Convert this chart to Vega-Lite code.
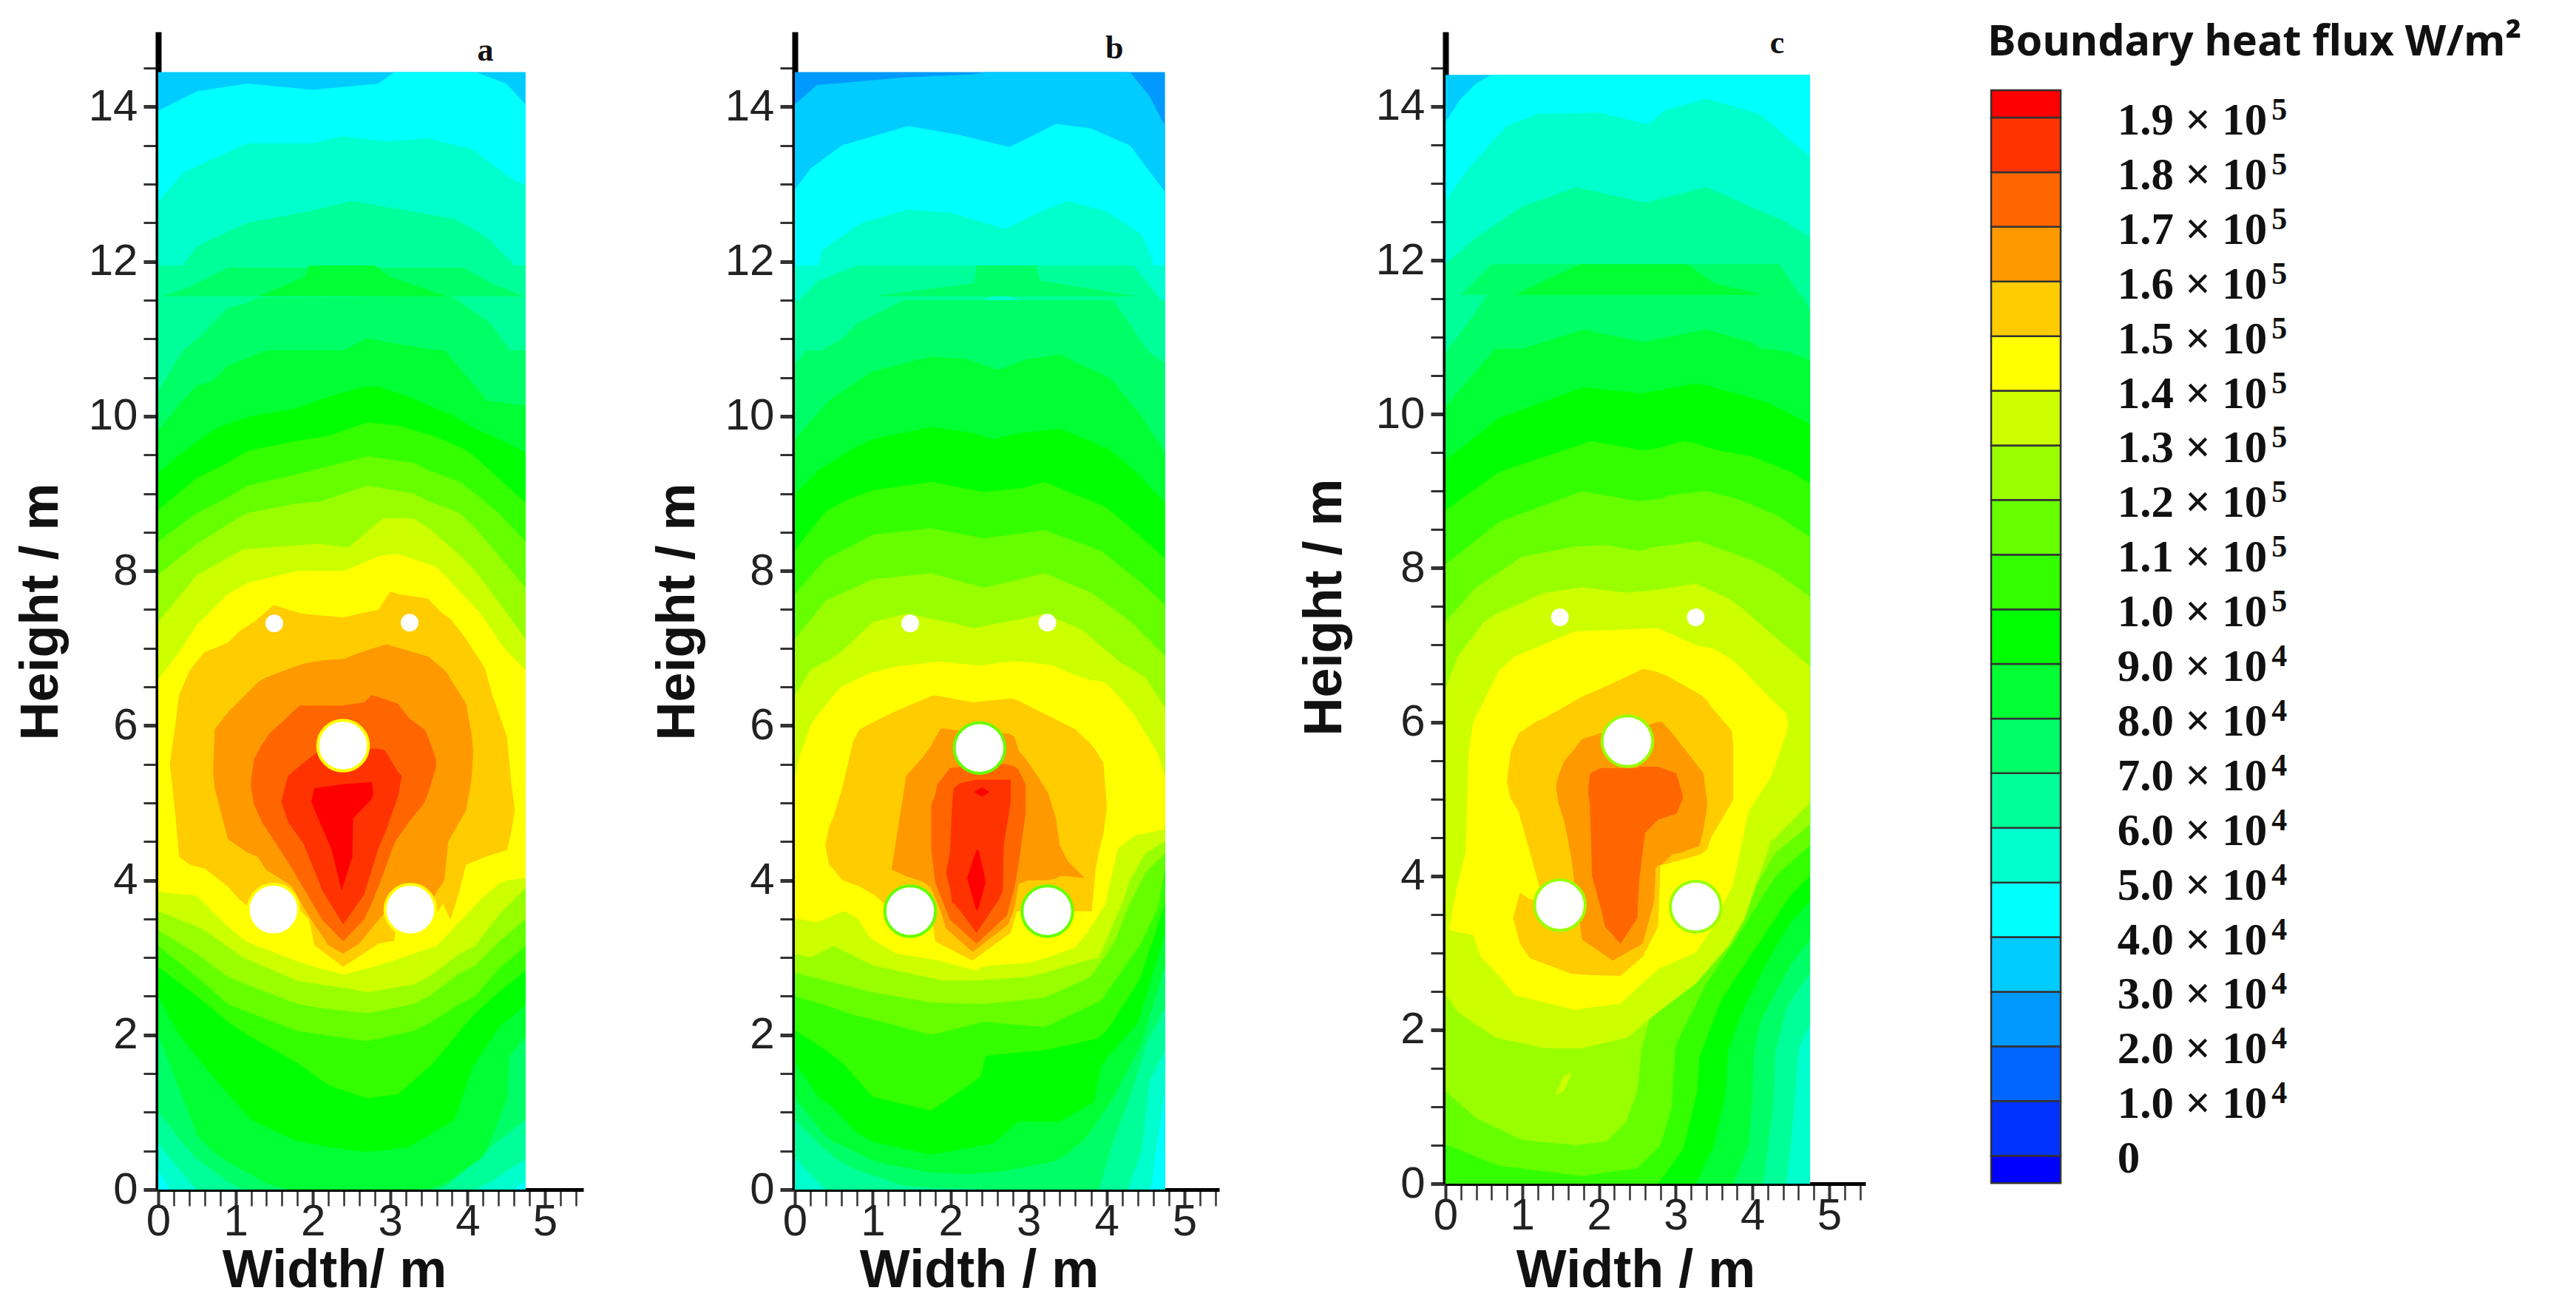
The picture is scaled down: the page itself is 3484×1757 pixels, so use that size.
{"$schema":"https://vega.github.io/schema/vega-lite/v6.json","padding":{"left":19,"top":28,"right":5,"bottom":5},"background":"white","bounds":"flush","spacing":286,"config":{"view":{"stroke":null},"axis":{"grid":false,"labelFont":"Liberation Sans","labelFontSize":60,"labelColor":"#222","titleFont":"Liberation Sans","titleFontSize":72,"titleFontWeight":"bold","titleColor":"#111","domainColor":"#000","tickColor":"#333","labelBound":false,"labelFlush":false,"zindex":1}},
"datasets":{
"a":[
{"l":3,"w":0,"lo":0,"hi":14.45},{"l":3,"w":4.75,"lo":0,"hi":14.45},
{"l":4,"w":0,"lo":0,"hi":13.95},{"l":4,"w":0.5,"lo":0,"hi":14.2},{"l":4,"w":1.15,"lo":0,"hi":14.3},{"l":4,"w":2,"lo":0,"hi":14.22},{"l":4,"w":2.85,"lo":0,"hi":14.3},{"l":4,"w":3.05,"lo":0,"hi":14.45},{"l":4,"w":4.1,"lo":0,"hi":14.45},{"l":4,"w":4.5,"lo":0,"hi":14.3},{"l":4,"w":4.75,"lo":0,"hi":14.03},
{"l":5,"w":0,"lo":0.25,"hi":12.77},{"l":5,"w":0.15,"lo":0,"hi":12.95},{"l":5,"w":0.32,"lo":0,"hi":13.15},{"l":5,"w":1.15,"lo":0,"hi":13.53},{"l":5,"w":2,"lo":0,"hi":13.53},{"l":5,"w":2.37,"lo":0,"hi":13.62},{"l":5,"w":2.95,"lo":0,"hi":13.55},{"l":5,"w":3.49,"lo":0,"hi":13.59},{"l":5,"w":4.07,"lo":0,"hi":13.45},{"l":5,"w":4.46,"lo":0,"hi":13.15},{"l":5,"w":4.6,"lo":0,"hi":13.05},{"l":5,"w":4.75,"lo":0.12,"hi":12.99},
{"l":6,"w":0,"lo":0.6,"hi":11.95},{"l":6,"w":0.32,"lo":0.2,"hi":11.95},{"l":6,"w":0.5,"lo":0,"hi":12.2},{"l":6,"w":1.15,"lo":0,"hi":12.5},{"l":6,"w":2,"lo":0,"hi":12.66},{"l":6,"w":2.5,"lo":0,"hi":12.78},{"l":6,"w":3.1,"lo":0,"hi":12.68},{"l":6,"w":3.83,"lo":0,"hi":12.55},{"l":6,"w":4.1,"lo":0,"hi":12.4},{"l":6,"w":4.3,"lo":0.1,"hi":12.27},{"l":6,"w":4.6,"lo":0.3,"hi":11.95},{"l":6,"w":4.75,"lo":0.4,"hi":11.95},
{"l":7,"w":0,"lo":1,"hi":10.33},{"l":7,"w":0.32,"lo":0.6,"hi":10.85},{"l":7,"w":0.5,"lo":0.4,"hi":10.99},{"l":7,"w":0.9,"lo":0.1,"hi":11.4},{"l":7,"w":1.1,"lo":0,"hi":11.45},{"l":7,"w":1.3,"lo":0,"hi":11.53},{"l":7,"w":3.63,"lo":0,"hi":11.55},{"l":7,"w":3.8,"lo":0.1,"hi":11.55},{"l":7,"w":4.3,"lo":0.55,"hi":11.2},{"l":7,"w":4.55,"lo":0.75,"hi":10.85},{"l":7,"w":4.75,"lo":0.9,"hi":10.85},
{"l":7,"g":1,"w":0.05,"lo":11.55,"hi":11.55},{"l":7,"g":1,"w":0.4,"lo":11.55,"hi":11.67},{"l":7,"g":1,"w":0.9,"lo":11.55,"hi":11.92},{"l":7,"g":1,"w":3.95,"lo":11.55,"hi":11.92},{"l":7,"g":1,"w":4.3,"lo":11.55,"hi":11.72},{"l":7,"g":1,"w":4.73,"lo":11.55,"hi":11.55},
{"l":8,"w":0,"lo":2,"hi":9.81},{"l":8,"w":0.27,"lo":1.3,"hi":10.15},{"l":8,"w":0.51,"lo":0.69,"hi":10.4},{"l":8,"w":0.7,"lo":0.5,"hi":10.45},{"l":8,"w":0.9,"lo":0.36,"hi":10.65},{"l":8,"w":1.4,"lo":0.08,"hi":10.85},{"l":8,"w":1.68,"lo":0,"hi":10.85},{"l":8,"w":2.4,"lo":0,"hi":10.85},{"l":8,"w":2.7,"lo":0,"hi":11.01},{"l":8,"w":3,"lo":0,"hi":10.95},{"l":8,"w":3.49,"lo":0,"hi":10.87},{"l":8,"w":3.7,"lo":0.08,"hi":10.85},{"l":8,"w":4.17,"lo":0.4,"hi":10.3},{"l":8,"w":4.25,"lo":0.5,"hi":10.2},{"l":8,"w":4.51,"lo":1.18,"hi":10.17},{"l":8,"w":4.54,"lo":1.73,"hi":10.16},{"l":8,"w":4.75,"lo":1.98,"hi":10.14},
{"l":8,"g":1,"w":1.3,"lo":11.55,"hi":11.55},{"l":8,"g":1,"w":1.9,"lo":11.55,"hi":11.8},{"l":8,"g":1,"w":1.95,"lo":11.55,"hi":11.95},{"l":8,"g":1,"w":2.8,"lo":11.55,"hi":11.95},{"l":8,"g":1,"w":3,"lo":11.55,"hi":11.8},{"l":8,"g":1,"w":3.73,"lo":11.55,"hi":11.55},
{"l":9,"w":0,"lo":2.5,"hi":9.26},{"l":9,"w":0.27,"lo":2,"hi":9.5},{"l":9,"w":0.76,"lo":1.4,"hi":9.85},{"l":9,"w":1.2,"lo":0.9,"hi":10},{"l":9,"w":1.78,"lo":0.63,"hi":10.1},{"l":9,"w":2.2,"lo":0.55,"hi":10.25},{"l":9,"w":2.66,"lo":0.49,"hi":10.38},{"l":9,"w":2.85,"lo":0.5,"hi":10.38},{"l":9,"w":3.24,"lo":0.55,"hi":10.25},{"l":9,"w":3.83,"lo":0.9,"hi":10},{"l":9,"w":4.07,"lo":1.6,"hi":9.85},{"l":9,"w":4.41,"lo":2.1,"hi":9.7},{"l":9,"w":4.75,"lo":2.39,"hi":9.53},
{"l":10,"w":0,"lo":2.88,"hi":8.79},{"l":10,"w":0.5,"lo":2.5,"hi":9.2},{"l":10,"w":0.9,"lo":2.17,"hi":9.4},{"l":10,"w":1.15,"lo":2,"hi":9.55},{"l":10,"w":1.78,"lo":1.65,"hi":9.68},{"l":10,"w":2.22,"lo":1.34,"hi":9.75},{"l":10,"w":2.7,"lo":1.18,"hi":9.92},{"l":10,"w":3.1,"lo":1.23,"hi":9.88},{"l":10,"w":3.54,"lo":1.62,"hi":9.75},{"l":10,"w":3.9,"lo":2.05,"hi":9.6},{"l":10,"w":4.07,"lo":2.25,"hi":9.5},{"l":10,"w":4.4,"lo":2.55,"hi":9.2},{"l":10,"w":4.75,"lo":2.83,"hi":8.88},
{"l":11,"w":0,"lo":3.15,"hi":8.38},{"l":11,"w":0.5,"lo":2.75,"hi":8.75},{"l":11,"w":0.9,"lo":2.4,"hi":8.95},{"l":11,"w":1.15,"lo":2.3,"hi":9.1},{"l":11,"w":1.8,"lo":2.05,"hi":9.25},{"l":11,"w":2.7,"lo":1.92,"hi":9.48},{"l":11,"w":3.3,"lo":2.05,"hi":9.4},{"l":11,"w":3.5,"lo":2.15,"hi":9.3},{"l":11,"w":3.9,"lo":2.4,"hi":9.15},{"l":11,"w":4.1,"lo":2.5,"hi":9},{"l":11,"w":4.4,"lo":2.85,"hi":8.75},{"l":11,"w":4.75,"lo":3.15,"hi":8.38},
{"l":12,"w":0,"lo":3.35,"hi":7.95},{"l":12,"w":0.5,"lo":3.05,"hi":8.35},{"l":12,"w":0.9,"lo":2.75,"hi":8.6},{"l":12,"w":1.15,"lo":2.65,"hi":8.75},{"l":12,"w":1.8,"lo":2.4,"hi":8.87},{"l":12,"w":2.1,"lo":2.35,"hi":8.9},{"l":12,"w":2.7,"lo":2.28,"hi":9.1},{"l":12,"w":3.3,"lo":2.4,"hi":9},{"l":12,"w":3.5,"lo":2.5,"hi":8.9},{"l":12,"w":3.9,"lo":2.8,"hi":8.75},{"l":12,"w":4.1,"lo":2.9,"hi":8.55},{"l":12,"w":4.4,"lo":3.2,"hi":8.2},{"l":12,"w":4.75,"lo":3.5,"hi":7.78},
{"l":13,"w":0,"lo":3.6,"hi":7.34},{"l":13,"w":0.5,"lo":3.4,"hi":7.95},{"l":13,"w":0.6,"lo":3.35,"hi":8},{"l":13,"w":1.1,"lo":3,"hi":8.28},{"l":13,"w":1.8,"lo":2.7,"hi":8.33},{"l":13,"w":2.1,"lo":2.65,"hi":8.35},{"l":13,"w":2.45,"lo":2.6,"hi":8.3},{"l":13,"w":2.7,"lo":2.55,"hi":8.5},{"l":13,"w":2.9,"lo":2.58,"hi":8.68},{"l":13,"w":3.3,"lo":2.65,"hi":8.68},{"l":13,"w":3.5,"lo":2.75,"hi":8.55},{"l":13,"w":3.9,"lo":3.05,"hi":8.2},{"l":13,"w":4.1,"lo":3.15,"hi":8},{"l":13,"w":4.4,"lo":3.55,"hi":7.6},{"l":13,"w":4.75,"lo":3.9,"hi":7.12},
{"l":14,"w":0,"lo":3.85,"hi":6.6},{"l":14,"w":0.27,"lo":3.82,"hi":6.95},{"l":14,"w":0.5,"lo":3.8,"hi":7.3},{"l":14,"w":0.7,"lo":3.6,"hi":7.5},{"l":14,"w":0.9,"lo":3.4,"hi":7.7},{"l":14,"w":1.15,"lo":3.2,"hi":7.84},{"l":14,"w":1.8,"lo":2.95,"hi":8},{"l":14,"w":2.12,"lo":2.85,"hi":8},{"l":14,"w":2.4,"lo":2.78,"hi":8},{"l":14,"w":2.85,"lo":2.9,"hi":8.19},{"l":14,"w":3.1,"lo":2.98,"hi":8.22},{"l":14,"w":3.6,"lo":3.15,"hi":8.05},{"l":14,"w":4.17,"lo":3.75,"hi":7.45},{"l":14,"w":4.4,"lo":3.95,"hi":7.1},{"l":14,"w":4.51,"lo":4,"hi":6.96},{"l":14,"w":4.75,"lo":4.03,"hi":6.72},
{"l":15,"w":0.15,"lo":5.5,"hi":5.5},{"l":15,"w":0.22,"lo":4.86,"hi":6},{"l":15,"w":0.27,"lo":4.3,"hi":6.4},{"l":15,"w":0.41,"lo":4.2,"hi":6.72},{"l":15,"w":0.6,"lo":4.15,"hi":6.95},{"l":15,"w":0.9,"lo":3.92,"hi":7.07},{"l":15,"w":1.05,"lo":3.75,"hi":7.22},{"l":15,"w":1.24,"lo":3.6,"hi":7.34},{"l":15,"w":1.49,"lo":3.6,"hi":7.56},{"l":15,"w":1.85,"lo":3.6,"hi":7.45},{"l":15,"w":1.95,"lo":3.49,"hi":7.44},{"l":15,"w":2.02,"lo":3.16,"hi":7.43},{"l":15,"w":2.39,"lo":2.88,"hi":7.4},{"l":15,"w":2.85,"lo":3.18,"hi":7.5},{"l":15,"w":3,"lo":3.21,"hi":7.73},{"l":15,"w":3.05,"lo":3.21,"hi":7.72},{"l":15,"w":3.1,"lo":3.6,"hi":7.7},{"l":15,"w":3.49,"lo":3.6,"hi":7.64},{"l":15,"w":3.62,"lo":3.6,"hi":7.5},{"l":15,"w":3.68,"lo":3.7,"hi":7.45},{"l":15,"w":3.78,"lo":3.49,"hi":7.38},{"l":15,"w":3.88,"lo":3.81,"hi":7.25},{"l":15,"w":3.98,"lo":4.2,"hi":7.12},{"l":15,"w":4.22,"lo":4.3,"hi":6.75},{"l":15,"w":4.32,"lo":4.33,"hi":6.4},{"l":15,"w":4.51,"lo":4.39,"hi":5.85},{"l":15,"w":4.56,"lo":4.6,"hi":5.3},{"l":15,"w":4.61,"lo":4.91,"hi":4.91},
{"l":16,"w":0.71,"lo":5.4,"hi":5.4},{"l":16,"w":0.73,"lo":5.19,"hi":5.95},{"l":16,"w":0.9,"lo":4.53,"hi":6.17},{"l":16,"w":1.15,"lo":4.36,"hi":6.42},{"l":16,"w":1.29,"lo":4.3,"hi":6.56},{"l":16,"w":1.39,"lo":4.14,"hi":6.62},{"l":16,"w":1.73,"lo":3.92,"hi":6.75},{"l":16,"w":1.88,"lo":3.65,"hi":6.8},{"l":16,"w":1.98,"lo":3.49,"hi":6.82},{"l":16,"w":2.2,"lo":3.16,"hi":6.85},{"l":16,"w":2.39,"lo":3.05,"hi":6.86},{"l":16,"w":2.6,"lo":3.18,"hi":6.94},{"l":16,"w":2.85,"lo":3.49,"hi":7.02},{"l":16,"w":2.95,"lo":3.6,"hi":7.05},{"l":16,"w":3.5,"lo":3.65,"hi":6.89},{"l":16,"w":3.6,"lo":3.85,"hi":6.8},{"l":16,"w":3.7,"lo":4,"hi":6.72},{"l":16,"w":3.75,"lo":4.5,"hi":6.65},{"l":16,"w":3.98,"lo":4.9,"hi":6.28},{"l":16,"w":4.05,"lo":5.3,"hi":5.9},{"l":16,"w":4.07,"lo":5.6,"hi":5.7},
{"l":17,"w":1.2,"lo":5.19,"hi":5.3},{"l":17,"w":1.24,"lo":4.98,"hi":5.57},{"l":17,"w":1.34,"lo":4.75,"hi":5.75},{"l":17,"w":1.44,"lo":4.6,"hi":5.9},{"l":17,"w":1.63,"lo":4.31,"hi":6.07},{"l":17,"w":1.73,"lo":4.15,"hi":6.17},{"l":17,"w":1.83,"lo":3.98,"hi":6.26},{"l":17,"w":2.12,"lo":3.49,"hi":6.26},{"l":17,"w":2.39,"lo":3.21,"hi":6.26},{"l":17,"w":2.66,"lo":3.49,"hi":6.3},{"l":17,"w":2.76,"lo":3.7,"hi":6.39},{"l":17,"w":2.85,"lo":3.92,"hi":6.37},{"l":17,"w":3.05,"lo":4.47,"hi":6.3},{"l":17,"w":3.1,"lo":4.55,"hi":6.28},{"l":17,"w":3.24,"lo":4.75,"hi":6.1},{"l":17,"w":3.44,"lo":5,"hi":5.95},{"l":17,"w":3.49,"lo":5.13,"hi":5.85},{"l":17,"w":3.59,"lo":5.45,"hi":5.57},
{"l":18,"w":1.59,"lo":5.02,"hi":5.02},{"l":18,"w":1.68,"lo":4.75,"hi":5.35},{"l":18,"w":1.88,"lo":4.47,"hi":5.52},{"l":18,"w":2.12,"lo":3.87,"hi":5.7},{"l":18,"w":2.39,"lo":3.43,"hi":5.7},{"l":18,"w":2.66,"lo":3.81,"hi":5.7},{"l":18,"w":2.85,"lo":4.42,"hi":5.7},{"l":18,"w":2.93,"lo":4.6,"hi":5.68},{"l":18,"w":3.1,"lo":5.08,"hi":5.4},{"l":18,"w":3.15,"lo":5.35,"hi":5.35},
{"l":19,"w":1.98,"lo":5.02,"hi":5.02},{"l":19,"w":2.02,"lo":4.91,"hi":5.19},{"l":19,"w":2.24,"lo":4.4,"hi":5.22},{"l":19,"w":2.37,"lo":3.87,"hi":5.24},{"l":19,"w":2.51,"lo":4.3,"hi":5.25},{"l":19,"w":2.52,"lo":4.8,"hi":5.25},{"l":19,"w":2.76,"lo":5.05,"hi":5.27},{"l":19,"w":2.78,"lo":5.1,"hi":5.15}
],
"b":[
{"l":2,"w":0,"lo":0,"hi":14.45},{"l":2,"w":4.75,"lo":0,"hi":14.45},
{"l":3,"w":0,"lo":0,"hi":14.03},{"l":3,"w":0.28,"lo":0,"hi":14.28},{"l":3,"w":1.4,"lo":0,"hi":14.38},{"l":3,"w":2.3,"lo":0,"hi":14.42},{"l":3,"w":2.43,"lo":0,"hi":14.45},{"l":3,"w":4.3,"lo":0,"hi":14.45},{"l":3,"w":4.55,"lo":0,"hi":14.14},{"l":3,"w":4.75,"lo":0,"hi":13.75},
{"l":4,"w":0,"lo":0,"hi":12.93},{"l":4,"w":0.2,"lo":0,"hi":13.2},{"l":4,"w":0.6,"lo":0,"hi":13.5},{"l":4,"w":1.45,"lo":0,"hi":13.75},{"l":4,"w":2.1,"lo":0,"hi":13.64},{"l":4,"w":2.75,"lo":0,"hi":13.48},{"l":4,"w":3,"lo":0,"hi":13.6},{"l":4,"w":3.35,"lo":0,"hi":13.78},{"l":4,"w":3.8,"lo":0,"hi":13.72},{"l":4,"w":4.3,"lo":0,"hi":13.5},{"l":4,"w":4.75,"lo":0,"hi":12.9},
{"l":5,"w":0,"lo":0,"hi":11.95},{"l":5,"w":0.3,"lo":0,"hi":11.95},{"l":5,"w":0.35,"lo":0,"hi":12.15},{"l":5,"w":0.85,"lo":0,"hi":12.5},{"l":5,"w":1.45,"lo":0,"hi":12.67},{"l":5,"w":2,"lo":0,"hi":12.63},{"l":5,"w":2.7,"lo":0,"hi":12.42},{"l":5,"w":3.1,"lo":0,"hi":12.62},{"l":5,"w":3.5,"lo":0,"hi":12.78},{"l":5,"w":4,"lo":0,"hi":12.65},{"l":5,"w":4.45,"lo":0,"hi":12.35},{"l":5,"w":4.56,"lo":0,"hi":12.1},{"l":5,"w":4.6,"lo":0.2,"hi":11.95},{"l":5,"w":4.65,"lo":0.6,"hi":11.95},{"l":5,"w":4.75,"lo":1.3,"hi":11.95},
{"l":6,"w":0,"lo":0.41,"hi":11.5},{"l":6,"w":0.39,"lo":0,"hi":11.5},{"l":6,"w":2.4,"lo":0,"hi":11.5},{"l":6,"w":2.65,"lo":0,"hi":11.4},{"l":6,"w":2.9,"lo":0,"hi":11.5},{"l":6,"w":4.27,"lo":0,"hi":11.5},{"l":6,"w":4.45,"lo":0.5,"hi":11.5},{"l":6,"w":4.55,"lo":1.4,"hi":11.5},{"l":6,"w":4.75,"lo":1.8,"hi":11.5},
{"l":6,"g":1,"w":0.05,"lo":11.5,"hi":11.5},{"l":6,"g":1,"w":0.3,"lo":11.5,"hi":11.75},{"l":6,"g":1,"w":0.8,"lo":11.5,"hi":11.95},{"l":6,"g":1,"w":2.4,"lo":11.5,"hi":11.95},{"l":6,"g":1,"w":2.65,"lo":11.58,"hi":11.95},{"l":6,"g":1,"w":2.9,"lo":11.5,"hi":11.95},{"l":6,"g":1,"w":4.35,"lo":11.5,"hi":11.95},{"l":6,"g":1,"w":4.7,"lo":11.5,"hi":11.5},
{"l":7,"w":0,"lo":0.9,"hi":10.68},{"l":7,"w":0.15,"lo":0.75,"hi":10.85},{"l":7,"w":0.35,"lo":0.55,"hi":10.85},{"l":7,"w":0.6,"lo":0.35,"hi":11},{"l":7,"w":0.8,"lo":0.25,"hi":11.2},{"l":7,"w":1.4,"lo":0.05,"hi":11.5},{"l":7,"w":1.8,"lo":0.02,"hi":11.5},{"l":7,"w":2.7,"lo":0,"hi":11.5},{"l":7,"w":3.9,"lo":0,"hi":11.5},{"l":7,"w":4.08,"lo":0.6,"hi":11.5},{"l":7,"w":4.3,"lo":1.2,"hi":11.2},{"l":7,"w":4.52,"lo":1.9,"hi":10.85},{"l":7,"w":4.75,"lo":2.35,"hi":10.68},
{"l":7,"g":1,"w":1,"lo":11.55,"hi":11.55},{"l":7,"g":1,"w":2.3,"lo":11.55,"hi":11.72},{"l":7,"g":1,"w":2.33,"lo":11.55,"hi":11.95},{"l":7,"g":1,"w":3.1,"lo":11.55,"hi":11.95},{"l":7,"g":1,"w":3.15,"lo":11.55,"hi":11.75},{"l":7,"g":1,"w":4.4,"lo":11.55,"hi":11.55},
{"l":8,"w":0,"lo":1.18,"hi":9.7},{"l":8,"w":0.39,"lo":0.7,"hi":10.15},{"l":8,"w":0.5,"lo":0.62,"hi":10.25},{"l":8,"w":1,"lo":0.38,"hi":10.58},{"l":8,"w":1.17,"lo":0.33,"hi":10.62},{"l":8,"w":1.75,"lo":0.22,"hi":10.77},{"l":8,"w":2.2,"lo":0.2,"hi":10.74},{"l":8,"w":2.6,"lo":0.23,"hi":10.6},{"l":8,"w":3,"lo":0.3,"hi":10.74},{"l":8,"w":3.3,"lo":0.36,"hi":10.78},{"l":8,"w":3.4,"lo":0.4,"hi":10.8},{"l":8,"w":3.7,"lo":0.63,"hi":10.65},{"l":8,"w":4,"lo":1.05,"hi":10.52},{"l":8,"w":4.08,"lo":1.18,"hi":10.45},{"l":8,"w":4.37,"lo":1.73,"hi":10.1},{"l":8,"w":4.45,"lo":1.9,"hi":10},{"l":8,"w":4.75,"lo":2.9,"hi":9.53},
{"l":9,"w":0,"lo":1.65,"hi":8.99},{"l":9,"w":0.3,"lo":1.2,"hi":9.3},{"l":9,"w":0.5,"lo":1.05,"hi":9.42},{"l":9,"w":0.78,"lo":0.75,"hi":9.6},{"l":9,"w":1,"lo":0.62,"hi":9.7},{"l":9,"w":1.75,"lo":0.45,"hi":9.86},{"l":9,"w":2.3,"lo":0.55,"hi":9.78},{"l":9,"w":2.55,"lo":0.6,"hi":9.7},{"l":9,"w":2.87,"lo":0.88,"hi":9.78},{"l":9,"w":3.4,"lo":0.88,"hi":9.84},{"l":9,"w":3.84,"lo":1.13,"hi":9.66},{"l":9,"w":3.93,"lo":1.6,"hi":9.6},{"l":9,"w":4,"lo":1.7,"hi":9.6},{"l":9,"w":4.4,"lo":2.15,"hi":9.26},{"l":9,"w":4.75,"lo":3.3,"hi":8.88},
{"l":10,"w":0,"lo":2.06,"hi":8.27},{"l":10,"w":0.4,"lo":1.8,"hi":8.77},{"l":10,"w":0.63,"lo":1.62,"hi":8.9},{"l":10,"w":1,"lo":1.2,"hi":9.04},{"l":10,"w":1.75,"lo":1.02,"hi":9.15},{"l":10,"w":2.38,"lo":1.45,"hi":9.03},{"l":10,"w":2.45,"lo":1.73,"hi":9.02},{"l":10,"w":2.96,"lo":1.78,"hi":9.08},{"l":10,"w":3.2,"lo":1.8,"hi":9.15},{"l":10,"w":3.88,"lo":1.95,"hi":8.87},{"l":10,"w":4,"lo":2.05,"hi":8.82},{"l":10,"w":4.42,"lo":2.7,"hi":8.46},{"l":10,"w":4.75,"lo":3.7,"hi":8.16},
{"l":11,"w":0,"lo":2.5,"hi":7.7},{"l":11,"w":0.4,"lo":2.38,"hi":8.16},{"l":11,"w":0.78,"lo":2.25,"hi":8.35},{"l":11,"w":1,"lo":2.2,"hi":8.47},{"l":11,"w":1.75,"lo":2,"hi":8.55},{"l":11,"w":2.43,"lo":2.17,"hi":8.42},{"l":11,"w":3.2,"lo":2.1,"hi":8.53},{"l":11,"w":3.93,"lo":2.44,"hi":8.26},{"l":11,"w":4.45,"lo":3.2,"hi":7.84},{"l":11,"w":4.66,"lo":3.65,"hi":7.65},{"l":11,"w":4.75,"lo":4.14,"hi":7.56},
{"l":12,"w":0,"lo":2.8,"hi":7.12},{"l":12,"w":0.4,"lo":2.7,"hi":7.62},{"l":12,"w":1,"lo":2.55,"hi":7.89},{"l":12,"w":1.75,"lo":2.42,"hi":7.97},{"l":12,"w":2.43,"lo":2.4,"hi":7.78},{"l":12,"w":3.2,"lo":2.48,"hi":7.97},{"l":12,"w":3.8,"lo":2.75,"hi":7.72},{"l":12,"w":4.1,"lo":3.2,"hi":7.5},{"l":12,"w":4.3,"lo":3.7,"hi":7.35},{"l":12,"w":4.5,"lo":4.1,"hi":7.15},{"l":12,"w":4.75,"lo":4.35,"hi":6.9},
{"l":13,"w":0,"lo":3.05,"hi":6.39},{"l":13,"w":0.2,"lo":3,"hi":6.72},{"l":13,"w":0.5,"lo":3.15,"hi":6.88},{"l":13,"w":0.6,"lo":3.1,"hi":6.96},{"l":13,"w":1,"lo":2.9,"hi":7.34},{"l":13,"w":1.45,"lo":2.8,"hi":7.45},{"l":13,"w":1.9,"lo":2.7,"hi":7.35},{"l":13,"w":2.3,"lo":2.7,"hi":7.26},{"l":13,"w":3,"lo":2.75,"hi":7.4},{"l":13,"w":3.2,"lo":2.8,"hi":7.45},{"l":13,"w":3.7,"lo":2.95,"hi":7.23},{"l":13,"w":3.9,"lo":3,"hi":7.05},{"l":13,"w":4.2,"lo":3.7,"hi":6.8},{"l":13,"w":4.3,"lo":4,"hi":6.75},{"l":13,"w":4.5,"lo":4.35,"hi":6.62},{"l":13,"w":4.75,"lo":4.5,"hi":6.23},
{"l":14,"w":0,"lo":3.5,"hi":5.3},{"l":14,"w":0.05,"lo":3.5,"hi":5.57},{"l":14,"w":0.2,"lo":3.47,"hi":6},{"l":14,"w":0.3,"lo":3.46,"hi":6.15},{"l":14,"w":0.58,"lo":3.58,"hi":6.49},{"l":14,"w":0.65,"lo":3.6,"hi":6.53},{"l":14,"w":0.8,"lo":3.51,"hi":6.6},{"l":14,"w":0.97,"lo":3.25,"hi":6.68},{"l":14,"w":1.3,"lo":3.05,"hi":6.76},{"l":14,"w":1.85,"lo":2.96,"hi":6.83},{"l":14,"w":2.33,"lo":2.83,"hi":6.78},{"l":14,"w":2.4,"lo":2.88,"hi":6.78},{"l":14,"w":2.77,"lo":2.92,"hi":6.83},{"l":14,"w":3,"lo":2.93,"hi":6.82},{"l":14,"w":3.3,"lo":3.02,"hi":6.78},{"l":14,"w":3.6,"lo":3.13,"hi":6.65},{"l":14,"w":3.75,"lo":3.32,"hi":6.6},{"l":14,"w":3.98,"lo":3.68,"hi":6.56},{"l":14,"w":4.15,"lo":4.42,"hi":6.38},{"l":14,"w":4.37,"lo":4.58,"hi":6.12},{"l":14,"w":4.66,"lo":4.64,"hi":5.63},{"l":14,"w":4.75,"lo":4.66,"hi":5.35},
{"l":15,"w":0.39,"lo":4.45,"hi":4.45},{"l":15,"w":0.44,"lo":4.2,"hi":4.7},{"l":15,"w":0.49,"lo":4.15,"hi":4.8},{"l":15,"w":0.61,"lo":4,"hi":5.2},{"l":15,"w":0.75,"lo":3.95,"hi":5.8},{"l":15,"w":0.83,"lo":3.92,"hi":5.95},{"l":15,"w":1.02,"lo":3.81,"hi":6.05},{"l":15,"w":1.26,"lo":3.6,"hi":6.17},{"l":15,"w":1.75,"lo":3.6,"hi":6.38},{"l":15,"w":1.8,"lo":3.21,"hi":6.39},{"l":15,"w":2.28,"lo":2.96,"hi":6.3},{"l":15,"w":2.77,"lo":3.32,"hi":6.35},{"l":15,"w":2.85,"lo":3.6,"hi":6.33},{"l":15,"w":3.6,"lo":3.6,"hi":5.95},{"l":15,"w":3.81,"lo":3.6,"hi":5.75},{"l":15,"w":3.86,"lo":4.14,"hi":5.68},{"l":15,"w":3.91,"lo":4.4,"hi":5.6},{"l":15,"w":3.96,"lo":4.6,"hi":5.52},{"l":15,"w":4,"lo":4.91,"hi":5},
{"l":16,"w":1.24,"lo":4.14,"hi":4.14},{"l":16,"w":1.43,"lo":4.05,"hi":5.35},{"l":16,"w":1.65,"lo":3.98,"hi":5.6},{"l":16,"w":1.75,"lo":3.9,"hi":5.74},{"l":16,"w":1.87,"lo":3.6,"hi":5.96},{"l":16,"w":1.94,"lo":3.38,"hi":5.96},{"l":16,"w":2.28,"lo":3.07,"hi":5.9},{"l":16,"w":2.74,"lo":3.43,"hi":5.9},{"l":16,"w":2.82,"lo":3.65,"hi":5.85},{"l":16,"w":2.87,"lo":3.95,"hi":5.68},{"l":16,"w":3,"lo":4,"hi":5.52},{"l":16,"w":3.25,"lo":4,"hi":5.13},{"l":16,"w":3.35,"lo":4.02,"hi":4.8},{"l":16,"w":3.4,"lo":4.05,"hi":4.45},{"l":16,"w":3.5,"lo":4.05,"hi":4.25},{"l":16,"w":3.72,"lo":4.03,"hi":4.03},
{"l":17,"w":1.75,"lo":4.4,"hi":4.97},{"l":17,"w":1.8,"lo":3.98,"hi":5.1},{"l":17,"w":1.83,"lo":3.9,"hi":5.24},{"l":17,"w":1.99,"lo":3.49,"hi":5.45},{"l":17,"w":2.33,"lo":3.18,"hi":5.5},{"l":17,"w":2.72,"lo":3.54,"hi":5.5},{"l":17,"w":2.82,"lo":3.92,"hi":5.47},{"l":17,"w":2.87,"lo":4.2,"hi":5.43},{"l":17,"w":2.96,"lo":4.86,"hi":5.24},
{"l":18,"w":1.94,"lo":4.09,"hi":4.09},{"l":18,"w":1.99,"lo":3.9,"hi":4.36},{"l":18,"w":2.02,"lo":3.7,"hi":5.02},{"l":18,"w":2.04,"lo":3.7,"hi":5.19},{"l":18,"w":2.11,"lo":3.62,"hi":5.25},{"l":18,"w":2.33,"lo":3.32,"hi":5.3},{"l":18,"w":2.62,"lo":3.75,"hi":5.3},{"l":18,"w":2.67,"lo":3.87,"hi":5.3},{"l":18,"w":2.68,"lo":4.45,"hi":5.3},{"l":18,"w":2.77,"lo":5,"hi":5.3},
{"l":19,"w":2.21,"lo":4.03,"hi":4.03},{"l":19,"w":2.33,"lo":3.6,"hi":4.39},{"l":19,"w":2.36,"lo":3.65,"hi":4.39},{"l":19,"w":2.45,"lo":3.98,"hi":3.98},
{"l":19,"g":1,"w":2.3,"lo":5.14,"hi":5.14},{"l":19,"g":1,"w":2.4,"lo":5.08,"hi":5.2},{"l":19,"g":1,"w":2.5,"lo":5.14,"hi":5.14}
],
"c":[
{"l":3,"w":0,"lo":0,"hi":14.41},{"l":3,"w":4.75,"lo":0,"hi":14.41},
{"l":4,"w":0,"lo":0,"hi":13.8},{"l":4,"w":0.2,"lo":0,"hi":14.1},{"l":4,"w":0.4,"lo":0,"hi":14.3},{"l":4,"w":0.6,"lo":0,"hi":14.41},{"l":4,"w":4.75,"lo":0,"hi":14.41},
{"l":5,"w":0,"lo":0,"hi":12.77},{"l":5,"w":0.3,"lo":0,"hi":13.2},{"l":5,"w":0.8,"lo":0,"hi":13.75},{"l":5,"w":1.2,"lo":0,"hi":13.9},{"l":5,"w":2,"lo":0,"hi":13.92},{"l":5,"w":2.65,"lo":0,"hi":13.77},{"l":5,"w":2.85,"lo":0,"hi":13.95},{"l":5,"w":3.4,"lo":0,"hi":14.1},{"l":5,"w":4.1,"lo":0,"hi":13.9},{"l":5,"w":4.45,"lo":0,"hi":13.6},{"l":5,"w":4.75,"lo":0,"hi":13.35},
{"l":6,"w":0,"lo":0,"hi":11.95},{"l":6,"w":0.4,"lo":0,"hi":12.3},{"l":6,"w":1,"lo":0,"hi":12.7},{"l":6,"w":1.7,"lo":0,"hi":12.95},{"l":6,"w":2.6,"lo":0,"hi":12.75},{"l":6,"w":3.4,"lo":0,"hi":12.95},{"l":6,"w":4.2,"lo":0,"hi":12.6},{"l":6,"w":4.44,"lo":0,"hi":12.5},{"l":6,"w":4.5,"lo":0.5,"hi":12.45},{"l":6,"w":4.56,"lo":1.2,"hi":12.42},{"l":6,"w":4.6,"lo":1.75,"hi":12.4},{"l":6,"w":4.75,"lo":2.07,"hi":12.3},
{"l":7,"w":0,"lo":0,"hi":10.8},{"l":7,"w":0.3,"lo":0,"hi":11.2},{"l":7,"w":0.55,"lo":0,"hi":11.55},{"l":7,"w":4.14,"lo":0,"hi":11.55},{"l":7,"w":4.27,"lo":1,"hi":11.55},{"l":7,"w":4.3,"lo":1.72,"hi":11.55},{"l":7,"w":4.45,"lo":2.3,"hi":11.55},{"l":7,"w":4.65,"lo":2.6,"hi":11.55},{"l":7,"w":4.75,"lo":2.73,"hi":11.35},
{"l":7,"g":1,"w":0.2,"lo":11.55,"hi":11.55},{"l":7,"g":1,"w":0.6,"lo":11.55,"hi":11.95},{"l":7,"g":1,"w":4.35,"lo":11.55,"hi":11.95},{"l":7,"g":1,"w":4.62,"lo":11.55,"hi":11.55},
{"l":8,"w":0,"lo":0,"hi":10.1},{"l":8,"w":0.65,"lo":0,"hi":10.85},{"l":8,"w":1,"lo":0,"hi":10.85},{"l":8,"w":1.8,"lo":0,"hi":11.1},{"l":8,"w":2.57,"lo":0,"hi":10.94},{"l":8,"w":3.4,"lo":0,"hi":11.1},{"l":8,"w":3.75,"lo":0,"hi":11},{"l":8,"w":3.95,"lo":0.5,"hi":10.95},{"l":8,"w":4,"lo":1.2,"hi":10.93},{"l":8,"w":4.02,"lo":1.72,"hi":10.92},{"l":8,"w":4.1,"lo":2.1,"hi":10.85},{"l":8,"w":4.2,"lo":2.3,"hi":10.85},{"l":8,"w":4.5,"lo":2.85,"hi":10.8},{"l":8,"w":4.75,"lo":3.17,"hi":10.7},
{"l":8,"g":1,"w":0.9,"lo":11.55,"hi":11.55},{"l":8,"g":1,"w":1.75,"lo":11.55,"hi":11.95},{"l":8,"g":1,"w":3.15,"lo":11.55,"hi":11.95},{"l":8,"g":1,"w":3.5,"lo":11.55,"hi":11.7},{"l":8,"g":1,"w":4.15,"lo":11.55,"hi":11.55},
{"l":9,"w":0,"lo":0,"hi":9.4},{"l":9,"w":0.7,"lo":0,"hi":9.95},{"l":9,"w":1.8,"lo":0,"hi":10.35},{"l":9,"w":2.57,"lo":0,"hi":10.27},{"l":9,"w":3.26,"lo":0,"hi":10.4},{"l":9,"w":3.5,"lo":0.5,"hi":10.35},{"l":9,"w":3.65,"lo":1.2,"hi":10.3},{"l":9,"w":3.68,"lo":1.72,"hi":10.3},{"l":9,"w":3.85,"lo":2.2,"hi":10.25},{"l":9,"w":4.2,"lo":2.9,"hi":10.15},{"l":9,"w":4.5,"lo":3.4,"hi":10},{"l":9,"w":4.75,"lo":3.67,"hi":9.87},
{"l":10,"w":0,"lo":0,"hi":8.75},{"l":10,"w":0.7,"lo":0,"hi":9.25},{"l":10,"w":1.9,"lo":0,"hi":9.65},{"l":10,"w":2.57,"lo":0,"hi":9.53},{"l":10,"w":2.77,"lo":0,"hi":9.56},{"l":10,"w":3.1,"lo":0.45,"hi":9.65},{"l":10,"w":3.28,"lo":1.2,"hi":9.62},{"l":10,"w":3.31,"lo":1.65,"hi":9.6},{"l":10,"w":3.6,"lo":2.4,"hi":9.52},{"l":10,"w":4,"lo":3,"hi":9.45},{"l":10,"w":4.5,"lo":3.75,"hi":9.25},{"l":10,"w":4.75,"lo":4,"hi":9.1},
{"l":11,"w":0,"lo":0.51,"hi":8.05},{"l":11,"w":0.7,"lo":0.23,"hi":8.6},{"l":11,"w":1.78,"lo":0.1,"hi":9},{"l":11,"w":2.5,"lo":0.2,"hi":8.87},{"l":11,"w":2.8,"lo":0.5,"hi":8.9},{"l":11,"w":2.95,"lo":1,"hi":8.95},{"l":11,"w":2.97,"lo":1.4,"hi":8.95},{"l":11,"w":3,"lo":1.8,"hi":8.96},{"l":11,"w":3.4,"lo":2.6,"hi":9},{"l":11,"w":3.8,"lo":3.2,"hi":8.9},{"l":11,"w":4.3,"lo":4,"hi":8.7},{"l":11,"w":4.75,"lo":4.4,"hi":8.4},
{"l":12,"w":0,"lo":1.2,"hi":7.3},{"l":12,"w":0.4,"lo":0.85,"hi":7.75},{"l":12,"w":1,"lo":0.57,"hi":8.15},{"l":12,"w":1.7,"lo":0.5,"hi":8.28},{"l":12,"w":2.1,"lo":0.55,"hi":8.3},{"l":12,"w":2.35,"lo":0.8,"hi":8.25},{"l":12,"w":2.5,"lo":1.2,"hi":8.23},{"l":12,"w":2.53,"lo":1.5,"hi":8.23},{"l":12,"w":2.55,"lo":1.73,"hi":8.23},{"l":12,"w":2.7,"lo":2.3,"hi":8.27},{"l":12,"w":3.3,"lo":3,"hi":8.35},{"l":12,"w":4,"lo":3.8,"hi":8.1},{"l":12,"w":4.3,"lo":4.3,"hi":7.95},{"l":12,"w":4.75,"lo":4.67,"hi":7.63},
{"l":13,"w":0,"lo":2.45,"hi":6.44},{"l":13,"w":0.16,"lo":2.23,"hi":6.85},{"l":13,"w":0.5,"lo":2,"hi":7.3},{"l":13,"w":0.65,"lo":1.9,"hi":7.4},{"l":13,"w":1.29,"lo":1.76,"hi":7.68},{"l":13,"w":1.78,"lo":1.76,"hi":7.75},{"l":13,"w":2.37,"lo":1.9,"hi":7.68},{"l":13,"w":2.77,"lo":2.23,"hi":7.72},{"l":13,"w":3.26,"lo":2.6,"hi":7.8},{"l":13,"w":3.7,"lo":3.1,"hi":7.6},{"l":13,"w":3.9,"lo":3.45,"hi":7.45},{"l":13,"w":4.24,"lo":4.45,"hi":7.15},{"l":13,"w":4.3,"lo":4.5,"hi":7.1},{"l":13,"w":4.75,"lo":4.95,"hi":6.72},
{"l":13,"g":1,"w":1.43,"lo":1.15,"hi":1.15},{"l":13,"g":1,"w":1.54,"lo":1.2,"hi":1.4},{"l":13,"g":1,"w":1.65,"lo":1.45,"hi":1.45},
{"l":14,"w":0.05,"lo":3.3,"hi":3.35},{"l":14,"w":0.16,"lo":3.27,"hi":3.9},{"l":14,"w":0.26,"lo":3.25,"hi":4.3},{"l":14,"w":0.3,"lo":3.24,"hi":5.6},{"l":14,"w":0.36,"lo":3.23,"hi":6},{"l":14,"w":0.46,"lo":2.95,"hi":6.2},{"l":14,"w":0.7,"lo":2.7,"hi":6.67},{"l":14,"w":0.9,"lo":2.45,"hi":6.85},{"l":14,"w":1.69,"lo":2.26,"hi":7.18},{"l":14,"w":2.28,"lo":2.34,"hi":7.2},{"l":14,"w":2.77,"lo":2.79,"hi":7.22},{"l":14,"w":3.26,"lo":3,"hi":7},{"l":14,"w":3.5,"lo":3.35,"hi":6.95},{"l":14,"w":3.75,"lo":3.9,"hi":6.8},{"l":14,"w":3.95,"lo":4.84,"hi":6.6},{"l":14,"w":4.24,"lo":5.28,"hi":6.3},{"l":14,"w":4.44,"lo":5.85,"hi":6.11},{"l":14,"w":4.46,"lo":5.95,"hi":6},
{"l":15,"w":0.8,"lo":5.22,"hi":5.22},{"l":15,"w":0.85,"lo":5,"hi":5.61},{"l":15,"w":0.95,"lo":4.84,"hi":5.85},{"l":15,"w":1.17,"lo":4.06,"hi":6},{"l":15,"w":1.29,"lo":3.6,"hi":6.05},{"l":15,"w":1.78,"lo":3.6,"hi":6.33},{"l":15,"w":1.85,"lo":3.6,"hi":6.36},{"l":15,"w":1.9,"lo":2.71,"hi":6.38},{"l":15,"w":2.28,"lo":2.7,"hi":6.55},{"l":15,"w":2.57,"lo":2.95,"hi":6.69},{"l":15,"w":2.77,"lo":3.34,"hi":6.65},{"l":15,"w":2.8,"lo":4.14,"hi":6.63},{"l":15,"w":2.87,"lo":4.15,"hi":6.61},{"l":15,"w":3.33,"lo":4.28,"hi":6.35},{"l":15,"w":3.41,"lo":4.35,"hi":6.28},{"l":15,"w":3.46,"lo":4.5,"hi":6.2},{"l":15,"w":3.73,"lo":4.95,"hi":5.89},{"l":15,"w":3.75,"lo":5,"hi":5.7},
{"l":15,"g":1,"w":0.88,"lo":3.45,"hi":3.45},{"l":15,"g":1,"w":0.97,"lo":3.12,"hi":3.78},{"l":15,"g":1,"w":1.1,"lo":2.93,"hi":3.7},{"l":15,"g":1,"w":1.64,"lo":2.73,"hi":3.6},{"l":15,"g":1,"w":1.9,"lo":2.71,"hi":3.6},
{"l":16,"w":1.44,"lo":5.17,"hi":5.17},{"l":16,"w":1.47,"lo":4.95,"hi":5.3},{"l":16,"w":1.55,"lo":4.7,"hi":5.5},{"l":16,"w":1.64,"lo":4.23,"hi":5.6},{"l":16,"w":1.78,"lo":3.17,"hi":5.78},{"l":16,"w":2.18,"lo":2.9,"hi":5.9},{"l":16,"w":2.57,"lo":3.12,"hi":5.95},{"l":16,"w":2.72,"lo":3.67,"hi":5.98},{"l":16,"w":2.74,"lo":4.12,"hi":6},{"l":16,"w":2.82,"lo":4.15,"hi":6},{"l":16,"w":2.96,"lo":4.28,"hi":5.85},{"l":16,"w":3.06,"lo":4.3,"hi":5.72},{"l":16,"w":3.31,"lo":4.39,"hi":5.4},{"l":16,"w":3.36,"lo":4.6,"hi":5.34},{"l":16,"w":3.41,"lo":4.89,"hi":4.95},
{"l":17,"w":1.86,"lo":5.05,"hi":5.11},{"l":17,"w":1.88,"lo":4.95,"hi":5.31},{"l":17,"w":1.91,"lo":4,"hi":5.35},{"l":17,"w":2.03,"lo":3.55,"hi":5.4},{"l":17,"w":2.08,"lo":3.34,"hi":5.4},{"l":17,"w":2.28,"lo":3.12,"hi":5.4},{"l":17,"w":2.5,"lo":3.45,"hi":5.4},{"l":17,"w":2.52,"lo":3.9,"hi":5.42},{"l":17,"w":2.6,"lo":4.56,"hi":5.42},{"l":17,"w":2.77,"lo":4.73,"hi":5.42},{"l":17,"w":3.01,"lo":4.81,"hi":5.33},{"l":17,"w":3.09,"lo":5,"hi":5.05}
],
"holesA":[{"w":1.49,"h":3.62,"k":"large"},{"w":2.39,"h":5.74,"k":"large"},{"w":3.26,"h":3.62,"k":"large"},{"w":1.5,"h":7.32,"k":"small"},{"w":3.25,"h":7.33,"k":"small"}],
"holesB":[{"w":1.48,"h":3.6,"k":"large"},{"w":2.37,"h":5.71,"k":"large"},{"w":3.24,"h":3.6,"k":"large"},{"w":1.48,"h":7.32,"k":"small"},{"w":3.24,"h":7.33,"k":"small"}],
"holesC":[{"w":1.49,"h":3.62,"k":"large"},{"w":2.37,"h":5.75,"k":"large"},{"w":3.26,"h":3.6,"k":"large"},{"w":1.49,"h":7.36,"k":"small"},{"w":3.26,"h":7.36,"k":"small"}],
"bands":[{"l":-1,"lo":-0.5,"hi":0,"label":"","exp":""},{"l":0,"lo":0,"hi":1,"label":"0","exp":""},{"l":1,"lo":1,"hi":2,"label":"1.0 × 10","exp":"4"},{"l":2,"lo":2,"hi":3,"label":"2.0 × 10","exp":"4"},{"l":3,"lo":3,"hi":4,"label":"3.0 × 10","exp":"4"},{"l":4,"lo":4,"hi":5,"label":"4.0 × 10","exp":"4"},{"l":5,"lo":5,"hi":6,"label":"5.0 × 10","exp":"4"},{"l":6,"lo":6,"hi":7,"label":"6.0 × 10","exp":"4"},{"l":7,"lo":7,"hi":8,"label":"7.0 × 10","exp":"4"},{"l":8,"lo":8,"hi":9,"label":"8.0 × 10","exp":"4"},{"l":9,"lo":9,"hi":10,"label":"9.0 × 10","exp":"4"},{"l":10,"lo":10,"hi":11,"label":"1.0 × 10","exp":"5"},{"l":11,"lo":11,"hi":12,"label":"1.1 × 10","exp":"5"},{"l":12,"lo":12,"hi":13,"label":"1.2 × 10","exp":"5"},{"l":13,"lo":13,"hi":14,"label":"1.3 × 10","exp":"5"},{"l":14,"lo":14,"hi":15,"label":"1.4 × 10","exp":"5"},{"l":15,"lo":15,"hi":16,"label":"1.5 × 10","exp":"5"},{"l":16,"lo":16,"hi":17,"label":"1.6 × 10","exp":"5"},{"l":17,"lo":17,"hi":18,"label":"1.7 × 10","exp":"5"},{"l":18,"lo":18,"hi":19,"label":"1.8 × 10","exp":"5"},{"l":19,"lo":19,"hi":19.5,"label":"1.9 × 10","exp":"5"}]
},
"hconcat":[
{"width":575,"height":1566,"layer":[
{"data":{"name":"a"},"mark":{"type":"area","interpolate":"linear","clip":false},"encoding":{"x":{"field":"w","type":"quantitative","scale":{"domain":[0,5.497],"nice":false,"zero":false},"axis":{"values":[0,0.2,0.4,0.6,0.8,1,1.2,1.4,1.6,1.8,2,2.2,2.4,2.6,2.8,3,3.2,3.4,3.6,3.8,4,4.2,4.4,4.6,4.8,5,5.2,5.4],"tickCount":100,"labelOverlap":false,"labelExpr":"abs(datum.value-round(datum.value))<0.01?datum.value:''","tickSize":22,"tickWidth":{"condition":{"test":"abs(datum.value-round(datum.value))<0.01","value":4},"value":2.5},"domainWidth":5,"labelPadding":-8,"title":"Width/ m","titleX":238,"titleY":131,"titleBaseline":"alphabetic","titleAnchor":"middle"}},"y":{"field":"lo","type":"quantitative","scale":{"domain":[0,14.97],"nice":false,"zero":false},"axis":{"values":[0,0.5,1,1.5,2,2.5,3,3.5,4,4.5,5,5.5,6,6.5,7,7.5,8,8.5,9,9.5,10,10.5,11,11.5,12,12.5,13,13.5,14,14.5],"tickCount":100,"labelOverlap":false,"labelExpr":"datum.value%2==0?datum.value:''","tickSize":20,"tickWidth":{"condition":{"test":"datum.value%2==0","value":5},"value":3},"domainWidth":8,"labelPadding":8,"title":"Height / m","titleX":-137,"titleY":784,"titleAngle":270,"titleBaseline":"alphabetic","titleAnchor":"middle"}},"y2":{"field":"hi"},"color":{"field":"l","type":"ordinal","legend":null,"scale":{"domain":[-1,0,1,2,3,4,5,6,7,8,9,10,11,12,13,14,15,16,17,18,19],"range":["#0000ff","#0033ff","#0066ff","#0099ff","#00ccff","#00ffff","#00ffcc","#00ff99","#00ff66","#00ff33","#00ff00","#33ff00","#66ff00","#99ff00","#ccff00","#ffff00","#ffcc00","#ff9900","#ff6600","#ff3300","#ff0000"]}},"detail":{"field":"g"}}},
{"data":{"name":"holesA"},"mark":{"type":"point","filled":true,"fill":"white","opacity":1,"stroke":"#ffff00"},"encoding":{"x":{"field":"w","type":"quantitative"},"y":{"field":"h","type":"quantitative"},"size":{"field":"k","type":"nominal","legend":null,"scale":{"domain":["large","small"],"range":[4700,570]}},"strokeWidth":{"field":"k","type":"nominal","legend":null,"scale":{"domain":["large","small"],"range":[4,0]}}}},
{"data":{"values":[{"w":4.23,"h":14.72,"t":"a"}]},"mark":{"type":"text","font":"Liberation Serif","fontWeight":"bold","fontSize":44,"color":"#111","baseline":"middle"},"encoding":{"x":{"field":"w","type":"quantitative"},"y":{"field":"h","type":"quantitative"},"text":{"field":"t"}}}
]},
{"width":594,"height":1566,"layer":[
{"data":{"name":"b"},"mark":{"type":"area","interpolate":"linear","clip":false},"encoding":{"x":{"field":"w","type":"quantitative","scale":{"domain":[0,5.446],"range":[0,574],"nice":false,"zero":false},"axis":{"values":[0,0.2,0.4,0.6,0.8,1,1.2,1.4,1.6,1.8,2,2.2,2.4,2.6,2.8,3,3.2,3.4,3.6,3.8,4,4.2,4.4,4.6,4.8,5,5.2,5.4],"tickCount":100,"labelOverlap":false,"labelExpr":"abs(datum.value-round(datum.value))<0.01?datum.value:''","tickSize":22,"tickWidth":{"condition":{"test":"abs(datum.value-round(datum.value))<0.01","value":4},"value":2.5},"domainWidth":5,"labelPadding":-8,"title":"Width / m","titleX":249,"titleY":131,"titleBaseline":"alphabetic","titleAnchor":"middle"}},"y":{"field":"lo","type":"quantitative","scale":{"domain":[0,14.97],"nice":false,"zero":false},"axis":{"values":[0,0.5,1,1.5,2,2.5,3,3.5,4,4.5,5,5.5,6,6.5,7,7.5,8,8.5,9,9.5,10,10.5,11,11.5,12,12.5,13,13.5,14,14.5],"tickCount":100,"labelOverlap":false,"labelExpr":"datum.value%2==0?datum.value:''","tickSize":20,"tickWidth":{"condition":{"test":"datum.value%2==0","value":5},"value":3},"domainWidth":8,"labelPadding":8,"title":"Height / m","titleX":-137,"titleY":784,"titleAngle":270,"titleBaseline":"alphabetic","titleAnchor":"middle"}},"y2":{"field":"hi"},"color":{"field":"l","type":"ordinal","legend":null,"scale":{"domain":[-1,0,1,2,3,4,5,6,7,8,9,10,11,12,13,14,15,16,17,18,19],"range":["#0000ff","#0033ff","#0066ff","#0099ff","#00ccff","#00ffff","#00ffcc","#00ff99","#00ff66","#00ff33","#00ff00","#33ff00","#66ff00","#99ff00","#ccff00","#ffff00","#ffcc00","#ff9900","#ff6600","#ff3300","#ff0000"]}},"detail":{"field":"g"}}},
{"data":{"name":"holesB"},"mark":{"type":"point","filled":true,"fill":"white","opacity":1,"stroke":"#66ff00"},"encoding":{"x":{"field":"w","type":"quantitative"},"y":{"field":"h","type":"quantitative"},"size":{"field":"k","type":"nominal","legend":null,"scale":{"domain":["large","small"],"range":[4700,570]}},"strokeWidth":{"field":"k","type":"nominal","legend":null,"scale":{"domain":["large","small"],"range":[4,0]}}}},
{"data":{"values":[{"w":4.1,"h":14.75,"t":"b"}]},"mark":{"type":"text","font":"Liberation Serif","fontWeight":"bold","fontSize":44,"color":"#111","baseline":"middle"},"encoding":{"x":{"field":"w","type":"quantitative"},"y":{"field":"h","type":"quantitative"},"text":{"field":"t"}}}
]},
{"width":452,"height":1558,"layer":[
{"data":{"name":"c"},"mark":{"type":"area","interpolate":"linear","clip":false},"encoding":{"x":{"field":"w","type":"quantitative","scale":{"domain":[0,5.472],"range":[0,568],"nice":false,"zero":false},"axis":{"values":[0,0.2,0.4,0.6,0.8,1,1.2,1.4,1.6,1.8,2,2.2,2.4,2.6,2.8,3,3.2,3.4,3.6,3.8,4,4.2,4.4,4.6,4.8,5,5.2,5.4],"tickCount":100,"labelOverlap":false,"labelExpr":"abs(datum.value-round(datum.value))<0.01?datum.value:''","tickSize":22,"tickWidth":{"condition":{"test":"abs(datum.value-round(datum.value))<0.01","value":4},"value":2.5},"domainWidth":5,"labelPadding":-8,"title":"Width / m","titleX":257,"titleY":139,"titleBaseline":"alphabetic","titleAnchor":"middle"}},"y":{"field":"lo","type":"quantitative","scale":{"domain":[0,14.97],"nice":false,"zero":false},"axis":{"values":[0,0.5,1,1.5,2,2.5,3,3.5,4,4.5,5,5.5,6,6.5,7,7.5,8,8.5,9,9.5,10,10.5,11,11.5,12,12.5,13,13.5,14,14.5],"tickCount":100,"labelOverlap":false,"labelExpr":"datum.value%2==0?datum.value:''","tickSize":20,"tickWidth":{"condition":{"test":"datum.value%2==0","value":5},"value":3},"domainWidth":8,"labelPadding":8,"title":"Height / m","titleX":-142,"titleY":778,"titleAngle":270,"titleBaseline":"alphabetic","titleAnchor":"middle"}},"y2":{"field":"hi"},"color":{"field":"l","type":"ordinal","legend":null,"scale":{"domain":[-1,0,1,2,3,4,5,6,7,8,9,10,11,12,13,14,15,16,17,18,19],"range":["#0000ff","#0033ff","#0066ff","#0099ff","#00ccff","#00ffff","#00ffcc","#00ff99","#00ff66","#00ff33","#00ff00","#33ff00","#66ff00","#99ff00","#ccff00","#ffff00","#ffcc00","#ff9900","#ff6600","#ff3300","#ff0000"]}},"detail":{"field":"g"}}},
{"data":{"name":"holesC"},"mark":{"type":"point","filled":true,"fill":"white","opacity":1,"stroke":"#99ff00"},"encoding":{"x":{"field":"w","type":"quantitative"},"y":{"field":"h","type":"quantitative"},"size":{"field":"k","type":"nominal","legend":null,"scale":{"domain":["large","small"],"range":[4700,570]}},"strokeWidth":{"field":"k","type":"nominal","legend":null,"scale":{"domain":["large","small"],"range":[4,0]}}}},
{"data":{"values":[{"w":4.32,"h":14.82,"t":"c"}]},"mark":{"type":"text","font":"Liberation Serif","fontWeight":"bold","fontSize":44,"color":"#111","baseline":"middle"},"encoding":{"x":{"field":"w","type":"quantitative"},"y":{"field":"h","type":"quantitative"},"text":{"field":"t"}}}
]},
{"width":790,"height":1566,"layer":[
{"data":{"name":"bands"},"mark":{"type":"rect","stroke":"#333","strokeWidth":2.5},"encoding":{"x":{"datum":0,"type":"quantitative","scale":{"domain":[0,10],"nice":false,"zero":false},"axis":null},"x2":{"datum":1.19},"y":{"field":"lo","type":"quantitative","scale":{"domain":[-0.62,20.57],"nice":false,"zero":false},"axis":null},"y2":{"field":"hi"},"color":{"field":"l","type":"ordinal","legend":null,"scale":{"domain":[-1,0,1,2,3,4,5,6,7,8,9,10,11,12,13,14,15,16,17,18,19],"range":["#0000ff","#0033ff","#0066ff","#0099ff","#00ccff","#00ffff","#00ffcc","#00ff99","#00ff66","#00ff33","#00ff00","#33ff00","#66ff00","#99ff00","#ccff00","#ffff00","#ffcc00","#ff9900","#ff6600","#ff3300","#ff0000"]}}}},
{"data":{"name":"bands"},"mark":{"type":"text","font":"Liberation Serif","fontWeight":"bold","fontSize":61,"align":"left","baseline":"middle","color":"#111","dy":5},"encoding":{"x":{"datum":2.16,"type":"quantitative"},"y":{"field":"lo","type":"quantitative"},"text":{"field":"label"}}},
{"data":{"name":"bands"},"mark":{"type":"text","font":"Liberation Serif","fontWeight":"bold","fontSize":42,"align":"left","baseline":"middle","color":"#111","dy":-10},"encoding":{"x":{"datum":4.8,"type":"quantitative"},"y":{"field":"lo","type":"quantitative"},"text":{"field":"exp"}}},
{"data":{"values":[{"t":"Boundary heat flux W/m²"}]},"mark":{"type":"text","font":"Noto Sans","fontWeight":"bold","fontSize":57.5,"align":"left","baseline":"middle","color":"#111"},"encoding":{"x":{"datum":-0.06,"type":"quantitative"},"y":{"datum":20.37,"type":"quantitative"},"text":{"field":"t"}}}
]}
]}
